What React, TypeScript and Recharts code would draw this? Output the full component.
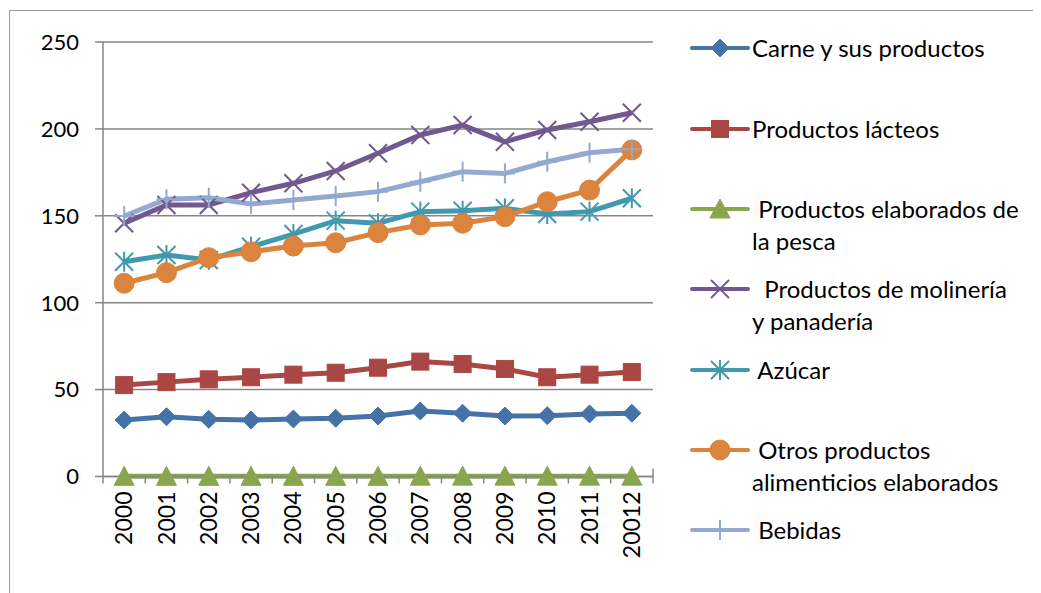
import React from "react"
import { LineChart, Line, XAxis, YAxis, CartesianGrid } from "recharts"

const years = ["2000", "2001", "2002", "2003", "2004", "2005", "2006", "2007", "2008", "2009", "2010", "2011", "20012"]

const carne = [32.5, 34.4, 32.9, 32.5, 33.1, 33.5, 34.8, 37.7, 36.4, 34.8, 35.0, 36.0, 36.4]
const lacteos = [52.6, 54.3, 55.9, 57.1, 58.6, 59.7, 62.6, 66.1, 64.7, 61.9, 57.1, 58.6, 60.1]
const pesca = [0.1, 0.1, 0.1, 0.1, 0.1, 0.1, 0.1, 0.2, 0.2, 0.2, 0.2, 0.2, 0.2]
const molineria = [145.7, 156.2, 156.2, 163.3, 168.7, 175.8, 186.0, 196.5, 202.2, 192.6, 199.4, 204.1, 209.3]
const azucar = [123.6, 127.4, 124.6, 132.2, 139.5, 147.2, 145.7, 152.4, 152.9, 154.3, 151.0, 152.4, 160.1]
const otros = [111.2, 117.3, 125.9, 129.3, 132.6, 134.5, 140.3, 144.7, 145.7, 149.5, 158.1, 164.8, 187.9]
const bebidas = [149.9, 159.5, 160.4, 156.8, 159.1, 161.4, 163.9, 169.6, 175.4, 174.4, 181.1, 186.3, 188.3]

const yTicks = [0, 50, 100, 150, 200, 250]

type Shape = "diamond" | "square" | "triangle" | "x" | "star" | "circle" | "plus"

const series: { key: string; label: string[]; color: string; shape: Shape; values: number[] }[] = [
  { key: "carne", label: ["Carne y sus productos"], color: "#4572A7", shape: "diamond", values: carne },
  { key: "lacteos", label: ["Productos lácteos"], color: "#AA4643", shape: "square", values: lacteos },
  { key: "pesca", label: [" Productos elaborados de", "la pesca"], color: "#89A54E", shape: "triangle", values: pesca },
  { key: "molineria", label: ["  Productos de molinería", "y panadería"], color: "#71588F", shape: "x", values: molineria },
  { key: "azucar", label: [" Azúcar"], color: "#4198AF", shape: "star", values: azucar },
  { key: "otros", label: [" Otros productos", "alimenticios elaborados"], color: "#DB843D", shape: "circle", values: otros },
  { key: "bebidas", label: [" Bebidas"], color: "#93A9CF", shape: "plus", values: bebidas },
]

const data = years.map((year, i) => {
  const row: any = { year }
  series.forEach((s) => (row[s.key] = s.values[i]))
  return row
})

const FONT = "Lato, 'Open Sans', sans-serif"
const GRID = "#868686"

function marker(shape: Shape, color: string, cx: number, cy: number, key?: any) {
  switch (shape) {
    case "diamond":
      return <polygon key={key} points={`${cx},${cy - 9} ${cx + 9},${cy} ${cx},${cy + 9} ${cx - 9},${cy}`} fill={color} stroke={color} strokeWidth={1} />
    case "square":
      return <rect key={key} x={cx - 8.5} y={cy - 8.5} width={17} height={17} fill={color} stroke={color} strokeWidth={1} />
    case "triangle":
      return <polygon key={key} points={`${cx},${cy - 10} ${cx + 10},${cy + 9} ${cx - 10},${cy + 9}`} fill={color} stroke={color} strokeWidth={1} />
    case "x":
      return (
        <g key={key} stroke={color} strokeWidth={2}>
          <line x1={cx - 9} y1={cy - 9} x2={cx + 9} y2={cy + 9} />
          <line x1={cx - 9} y1={cy + 9} x2={cx + 9} y2={cy - 9} />
        </g>
      )
    case "star":
      return (
        <g key={key} stroke={color} strokeWidth={2}>
          <line x1={cx - 9} y1={cy - 9} x2={cx + 9} y2={cy + 9} />
          <line x1={cx - 9} y1={cy + 9} x2={cx + 9} y2={cy - 9} />
          <line x1={cx} y1={cy - 10} x2={cx} y2={cy + 10} />
        </g>
      )
    case "circle":
      return <circle key={key} cx={cx} cy={cy} r={10} fill={color} stroke={color} strokeWidth={1} />
    case "plus":
      return (
        <g key={key} stroke={color} strokeWidth={2}>
          <line x1={cx} y1={cy - 10} x2={cx} y2={cy + 10} />
          <line x1={cx - 10} y1={cy} x2={cx + 10} y2={cy} />
        </g>
      )
  }
}

const XTick = (props: any) => {
  const { x, y, payload, index, visibleTicksCount } = props
  const half = payload.offset || 21
  const last = index === visibleTicksCount - 1
  return (
    <g>
      <line x1={x - half} y1={y} x2={x - half} y2={y + 7} stroke={GRID} strokeWidth={1.5} />
      {last && <line x1={x + half} y1={y - 8} x2={x + half} y2={y + 7} stroke={GRID} strokeWidth={1.5} />}
      <text
        x={x}
        y={y + 15}
        transform={`rotate(-90, ${x}, ${y + 15})`}
        textAnchor="end"
        dy="0.35em"
        fontSize={23}
        fontFamily={FONT}
        fill="#000"
      >
        {payload.value}
      </text>
    </g>
  )
}

function LegendBox() {
  return (
    <div style={{ position: "absolute", left: 0, top: 0, fontFamily: FONT, fontSize: 24, color: "#000" }}>
      {series.map((s, i) => {
        const cy = 40.3 + i * 80.3
        return (
          <div key={s.key} style={{ position: "absolute", top: cy - 16, left: 0 }}>
            <svg width={70} height={32} style={{ position: "absolute", left: 680, top: 0 }}>
              <line x1={4} y1={16} x2={60} y2={16} stroke={s.color} strokeWidth={4} strokeLinecap="round" />
              {marker(s.shape, s.color, 32, 16)}
            </svg>
            <div style={{ position: "absolute", left: 744, top: 0, whiteSpace: "pre", lineHeight: "32px" }}>
              {s.label.map((l, j) => (
                <div key={j}>{l}</div>
              ))}
            </div>
          </div>
        )
      })}
    </div>
  )
}

export default function App() {
  return (
    <div style={{ position: "relative", width: 1033, height: 585, overflow: "hidden", background: "#fff" }}>
      <div
        style={{
          position: "absolute",
          left: 1,
          top: 2,
          width: 1200,
          height: 800,
          borderLeft: "1.5px solid #9a9a9a",
          borderTop: "1.5px solid #9a9a9a",
        }}
      />
      <div style={{ position: "absolute", left: 0, top: 0 }}>
        <LineChart width={1033} height={585} data={data} margin={{ top: 34, right: 388, bottom: 56.5, left: 35 }}>
          <CartesianGrid vertical={false} stroke={GRID} strokeWidth={1.5} />
          <XAxis
            dataKey="year"
            scale="band"
            height={60}
            tickSize={0}
            tickMargin={0}
            tickLine={false}
            axisLine={{ stroke: GRID, strokeWidth: 1.5 }}
            tick={<XTick />}
            interval={0}
          />
          <YAxis
            width={60}
            domain={[0, 250]}
            ticks={yTicks}
            tickSize={8}
            tickMargin={16}
            tickLine={{ stroke: GRID, strokeWidth: 1.5 }}
            axisLine={{ stroke: GRID, strokeWidth: 1.5 }}
            tick={{ fontSize: 22, fontFamily: FONT, fill: "#000" }}
          />
          {series.map((s) => (
            <Line
              key={s.key}
              dataKey={s.key}
              name={s.label.join(" ")}
              stroke={s.color}
              strokeWidth={5}
              type="linear"
              isAnimationActive={false}
              dot={(p: any) => marker(s.shape, s.color, p.cx, p.cy, `${s.key}-${p.index}`)}
              activeDot={false}
            />
          ))}
        </LineChart>
      </div>
      <LegendBox />
    </div>
  )
}
